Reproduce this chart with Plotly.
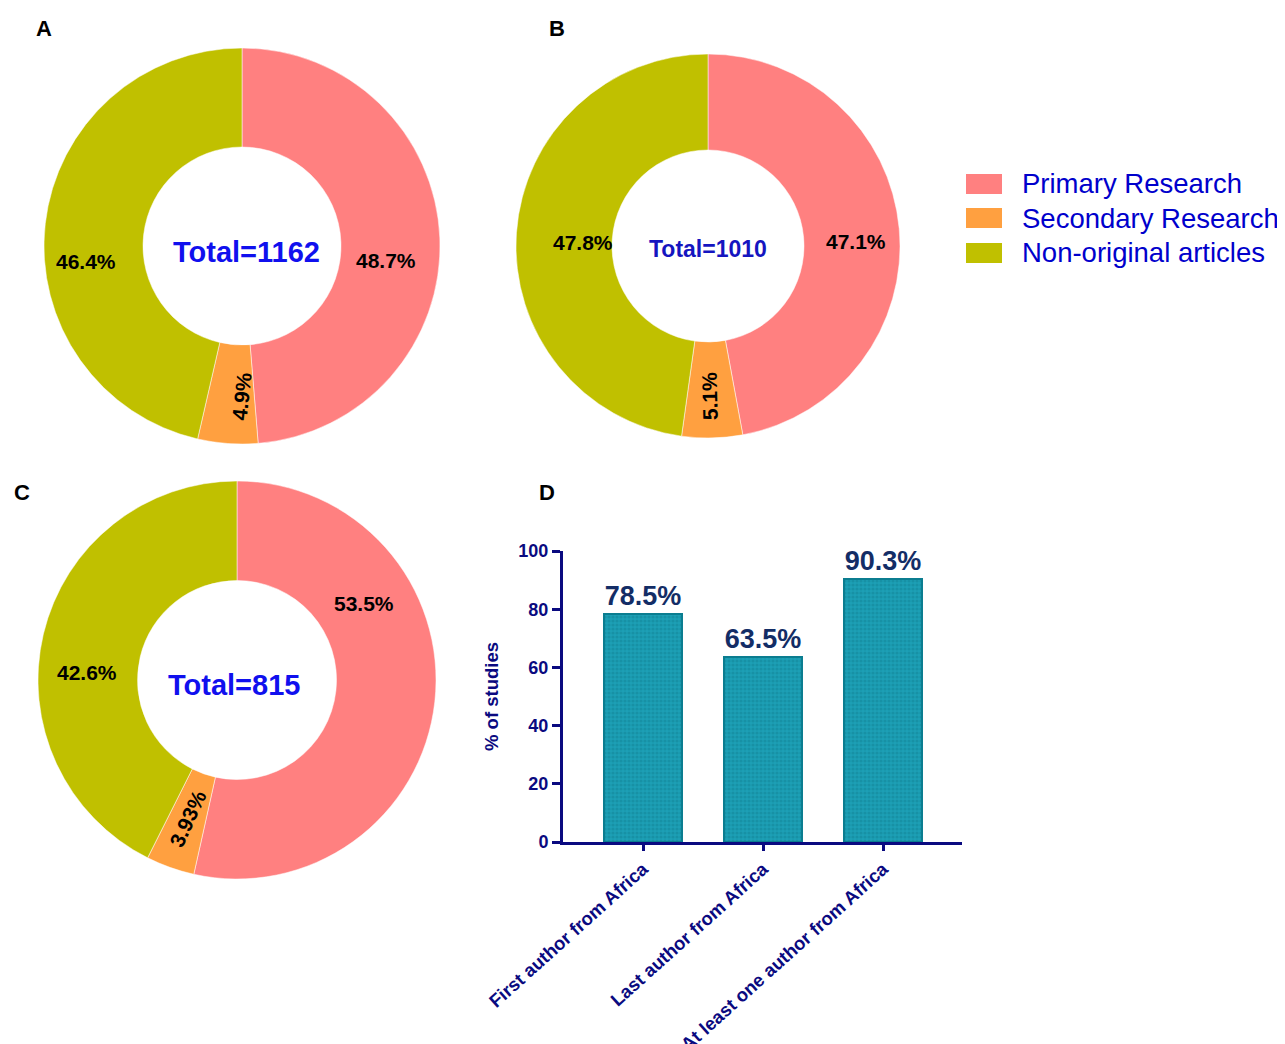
import math
import plotly.graph_objects as go

W, H = 1285, 1044
OFF = 8  # page body margin

# ---- data ----
pie_labels = ["Primary Research", "Secondary Research", "Non-original articles"]
pie_colors = ["#ff8080", "#ffa040", "#c0c000"]
pie_a_values = [48.7, 4.9, 46.4]
pie_b_values = [47.1, 5.1, 47.8]
pie_c_values = [53.5, 3.93, 42.6]
pie_a_text = ["48.7%", "4.9%", "46.4%"]
pie_b_text = ["47.1%", "5.1%", "47.8%"]
pie_c_text = ["53.5%", "3.93%", "42.6%"]
totals = ["Total=1162", "Total=1010", "Total=815"]

bar_categories = ["First author from Africa", "Last author from Africa",
                  "At least one author from Africa"]
bar_values = [78.5, 63.5, 90.3]
bar_text = ["78.5%", "63.5%", "90.3%"]
y_ticks = [0, 20, 40, 60, 80, 100]

# ---- layout / style ----
NAVY = "#0a0a80"
FONT = "Arial"
pie_geom = [(242, 246, 198), (708, 246, 192), (237, 680, 199)]  # centre x, y, radius (px)
# pixel nudges of slice labels away from the slice mid-point (GraphPad-like placement)
label_nudges = [
    [(-4, 21), (10, 2), (-8, 32)],
    [(5, 9), (-1, 6), (19, 6)],
    [(-21, -93), (1, -2), (-5, 27)],
]
small_slice_angle_adj = [2, 0, 5]

def px_x(v):
    return (v - OFF) / W

def px_y(v):
    return 1 - (v - OFF) / H

def dom(cx, cy, r):
    return dict(x=[px_x(cx - r), px_x(cx + r)], y=[px_y(cy + r), px_y(cy - r)])

fig = go.Figure()
annotations = []

pie_sets = [(pie_a_values, pie_a_text), (pie_b_values, pie_b_text), (pie_c_values, pie_c_text)]
for k, ((vals, txt), (cx, cy, r)) in enumerate(zip(pie_sets, pie_geom)):
    fig.add_trace(go.Pie(
        labels=pie_labels, values=vals, textinfo="none",
        marker=dict(colors=pie_colors, line=dict(color="white", width=0.5)),
        hole=0.5, sort=False, direction="clockwise", rotation=0,
        domain=dom(cx, cy, r), showlegend=False,
    ))
    total = sum(vals)
    cum = 0.0
    rm = 0.75 * r
    for i, (v, t) in enumerate(zip(vals, txt)):
        theta = 360 * (cum + v / 2) / total
        cum += v
        ax = cx + rm * math.sin(math.radians(theta)) + label_nudges[k][i][0]
        ay = cy - rm * math.cos(math.radians(theta)) + label_nudges[k][i][1]
        angle = 0
        if v / total < 0.1:
            angle = theta - 270 + small_slice_angle_adj[k]
        annotations.append(dict(x=px_x(ax), y=px_y(ay), xref="paper", yref="paper",
                                text=f"<b>{t}</b>", showarrow=False,
                                xanchor="center", yanchor="middle",
                                textangle=angle,
                                font=dict(family=FONT, size=21, color="black")))

fig.add_trace(go.Bar(
    x=bar_categories, y=bar_values, text=bar_text,
    textposition="outside", cliponaxis=False,
    textfont=dict(family=FONT, size=27, color="#132d66", weight="bold"),
    width=0.65,
    marker=dict(color="#1a9ab0",
                line=dict(color="#0b7d90", width=2),
                pattern=dict(shape=".", size=4, solidity=0.5,
                             fgcolor="#118396", bgcolor="#1c9fb5",
                             fillmode="overlay")),
    xaxis="x", yaxis="y", showlegend=False,
))

fig.update_layout(
    width=W, height=H,
    margin=dict(l=0, r=0, t=0, b=0, autoexpand=False),
    paper_bgcolor="white", plot_bgcolor="white",
    font=dict(family=FONT),
    bargap=0,
    xaxis=dict(
        domain=[px_x(563), px_x(962)],
        range=[-0.667, 2.658],
        automargin=False,
        showline=True, linecolor=NAVY, linewidth=3,
        ticks="outside", ticklen=6, tickwidth=3, tickcolor=NAVY,
        tickangle=-42,
        tickfont=dict(family=FONT, size=18.5, color=NAVY, weight="bold"),
        showgrid=False, zeroline=False, anchor="y",
    ),
    yaxis=dict(
        domain=[px_y(842), px_y(551)],
        range=[0, 100], tickvals=y_ticks,
        automargin=False,
        showline=True, linecolor=NAVY, linewidth=3,
        ticks="outside", ticklen=8, tickwidth=3, tickcolor=NAVY,
        tickfont=dict(family=FONT, size=18, color=NAVY, weight="bold"),
        title=dict(text="% of studies",
                   font=dict(family=FONT, size=18.5, color=NAVY, weight="bold")),
        showgrid=False, zeroline=False, anchor="x",
    ),
)

# panel letters
for letter, (x, y) in zip("ABCD", [(44, 28), (557, 28), (22, 492), (547, 492)]):
    annotations.append(dict(x=px_x(x), y=px_y(y), xref="paper", yref="paper",
                            xanchor="center", yanchor="middle",
                            text=f"<b>{letter}</b>", showarrow=False,
                            font=dict(family=FONT, size=22, color="black")))
# totals
tot_specs = [((246, 252), 29, "#1010ee"), ((708, 249), 23, "#1515c0"),
             ((234, 685), 29, "#1010ee")]
for t, ((x, y), s, c) in zip(totals, tot_specs):
    annotations.append(dict(x=px_x(x), y=px_y(y), xref="paper", yref="paper",
                            xanchor="center", yanchor="middle",
                            text=f"<b>{t}</b>", showarrow=False,
                            font=dict(family=FONT, size=s, color=c)))

# manual legend
shapes = []
leg_y = [184, 218, 253]
for lab, col, y in zip(pie_labels, pie_colors, leg_y):
    shapes.append(dict(type="rect", xref="paper", yref="paper",
                       x0=px_x(966), x1=px_x(1002), y0=px_y(y + 10), y1=px_y(y - 10),
                       fillcolor=col, line=dict(width=0)))
    annotations.append(dict(x=px_x(1020), y=px_y(y), xref="paper", yref="paper",
                            xanchor="left", yanchor="middle", text=lab,
                            showarrow=False,
                            font=dict(family=FONT, size=27.5, color="#0000cc")))

fig.update_layout(annotations=annotations, shapes=shapes)
fig.write_html("out.html")
